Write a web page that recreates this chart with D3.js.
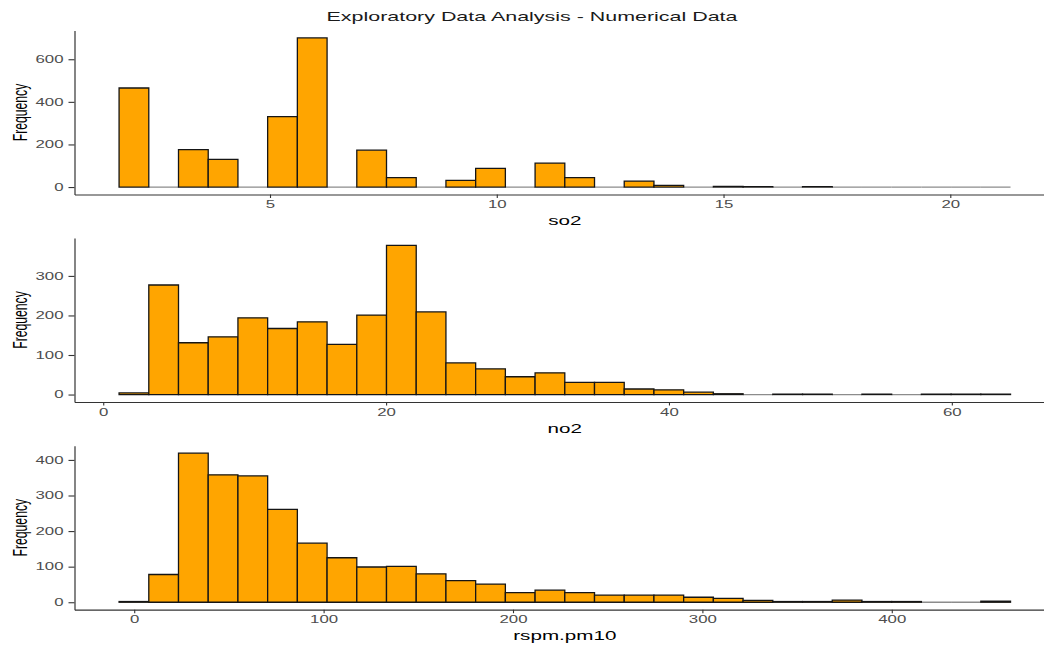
<!DOCTYPE html>
<html>
<head>
<meta charset="utf-8">
<script src="https://cdn.jsdelivr.net/npm/d3@7"></script>
<style>
  html, body { margin: 0; padding: 0; background: #ffffff; }
  svg { display: block; font-family: "Liberation Sans", Arial, sans-serif; }
</style>
</head>
<body>
<script>
// ---------------- data ----------------
const chartTitle = "Exploratory Data Analysis - Numerical Data";
const variableNames = ["so2", "no2", "rspm.pm10"];

// histogram counts (30 bins each)
const so2Counts  = [465, 0, 176, 130, 0, 331, 700, 0, 173, 44, 0, 31, 88, 0, 112, 44, 0, 28, 8, 0, 3, 2, 0, 2, 0, 0, 0, 0, 0, 0];
const no2Counts  = [4, 277, 131, 146, 194, 167, 184, 127, 201, 377, 209, 80, 65, 45, 55, 31, 31, 14, 12, 6, 2, 0, 1, 1, 0, 1, 0, 1, 1, 1];
const pm10Counts = [2, 78, 419, 358, 355, 261, 166, 125, 99, 101, 80, 61, 51, 27, 34, 27, 20, 20, 20, 14, 11, 5, 2, 2, 6, 2, 2, 0, 0, 3];

// bin layout (left edge of first bin, bin width) in data units
const so2BinStart = 1.672,  so2BinWidth = 0.6552;
const no2BinStart = 1.12,   no2BinWidth = 2.101;
const pm10BinStart = -8.0,  pm10BinWidth = 15.69;

// tick labels
const so2XTicks  = [5, 10, 15, 20];
const no2XTicks  = [0, 20, 40, 60];
const pm10XTicks = [0, 100, 200, 300, 400];
const so2YTicks  = [0, 200, 400, 600];
const no2YTicks  = [0, 100, 200, 300];
const pm10YTicks = [0, 100, 200, 300, 400];

// ---------------- layout ----------------
const W = 1044, H = 646;
const SX = 1.65;                 // horizontal text stretch of the reference
const panelLeft = 74.5, panelWidth = 980.6, panelHeight = 164;
const panelTops = [30.5, 238, 445.7];
const barFill = "#FFA500";
const tickFont = 10.2;

const panels = [
  { name: variableNames[0], counts: so2Counts,  start: so2BinStart,  width: so2BinWidth,  xt: so2XTicks,  yt: so2YTicks },
  { name: variableNames[1], counts: no2Counts,  start: no2BinStart,  width: no2BinWidth,  xt: no2XTicks,  yt: no2YTicks },
  { name: variableNames[2], counts: pm10Counts, start: pm10BinStart, width: pm10BinWidth, xt: pm10XTicks, yt: pm10YTicks }
];

const svg = d3.select("body").append("svg").attr("width", W).attr("height", H);

svg.append("text")
  .attr("text-anchor", "middle")
  .attr("transform", `translate(532,21) scale(${SX},1)`)
  .attr("font-size", 13)
  .attr("fill", "#1a1a1a")
  .text(chartTitle);

panels.forEach((p, i) => {
  const top = panelTops[i], bottom = top + panelHeight;
  const n = p.counts.length;
  const lo = p.start, hi = p.start + n * p.width, R = hi - lo;
  const x = d3.scaleLinear().domain([lo - 0.05 * R, hi + 0.05 * R]).range([panelLeft, panelLeft + panelWidth]);
  const M = d3.max(p.counts);
  const y = d3.scaleLinear().domain([-0.05 * M, 1.05 * M]).range([bottom, top]);

  const g = svg.append("g");
  const bins = p.counts.map((c, k) => ({ c, k }));
  const barPath = d => {
    const x0 = x(lo + d.k * p.width), x1 = x(lo + (d.k + 1) * p.width);
    const y0 = y(0), y1 = y(d.c);
    return `M${x0},${y0}V${y1}H${x1}V${y0}Z`;
  };
  // empty bins first (grey baseline), then filled bins
  g.selectAll("path.zero").data(bins.filter(d => d.c === 0)).join("path")
    .attr("class", "zero").attr("d", barPath)
    .attr("fill", barFill).attr("stroke", "#8c8c8c").attr("stroke-width", 1.3);
  g.selectAll("path.bar").data(bins.filter(d => d.c > 0)).join("path")
    .attr("class", "bar").attr("d", barPath)
    .attr("fill", barFill).attr("stroke", "#151515").attr("stroke-width", 1.3);

  // y axis
  const ya = svg.append("g").attr("transform", `translate(${panelLeft},0)`)
    .call(d3.axisLeft(y).tickValues(p.yt).tickSize(6).tickSizeOuter(0).tickPadding(5));
  ya.select(".domain").attr("stroke", "#333").attr("stroke-width", 1.2);
  ya.selectAll(".tick line").attr("stroke", "#333").attr("stroke-width", 1.1);
  ya.selectAll(".tick text")
    .attr("x", -11 / SX)
    .attr("transform", `scale(${SX},1)`)
    .attr("font-size", tickFont).attr("fill", "#4d4d4d")
    .attr("font-family", "Liberation Sans, Arial, sans-serif");

  // x axis
  const xa = svg.append("g").attr("transform", `translate(0,${bottom})`)
    .call(d3.axisBottom(x).tickValues(p.xt).tickSize(3.5).tickSizeOuter(0).tickPadding(3));
  xa.select(".domain").attr("stroke", "#333").attr("stroke-width", 1.2);
  xa.selectAll(".tick line").attr("stroke", "#333").attr("stroke-width", 1.1);
  xa.selectAll(".tick text")
    .attr("transform", `scale(${SX},1)`)
    .attr("font-size", tickFont).attr("fill", "#4d4d4d")
    .attr("font-family", "Liberation Sans, Arial, sans-serif");

  // axis titles
  svg.append("text")
    .attr("text-anchor", "middle")
    .attr("transform", `translate(${panelLeft + panelWidth / 2},${bottom + 30.5}) scale(${SX},1)`)
    .attr("font-size", 12.5).attr("fill", "#000")
    .text(p.name);
  svg.append("text")
    .attr("text-anchor", "middle")
    .attr("transform", `translate(27,${(top + bottom) / 2}) rotate(-90) scale(1,${SX})`)
    .attr("font-size", 12.2).attr("fill", "#000")
    .text("Frequency");
});
</script>
</body>
</html>
